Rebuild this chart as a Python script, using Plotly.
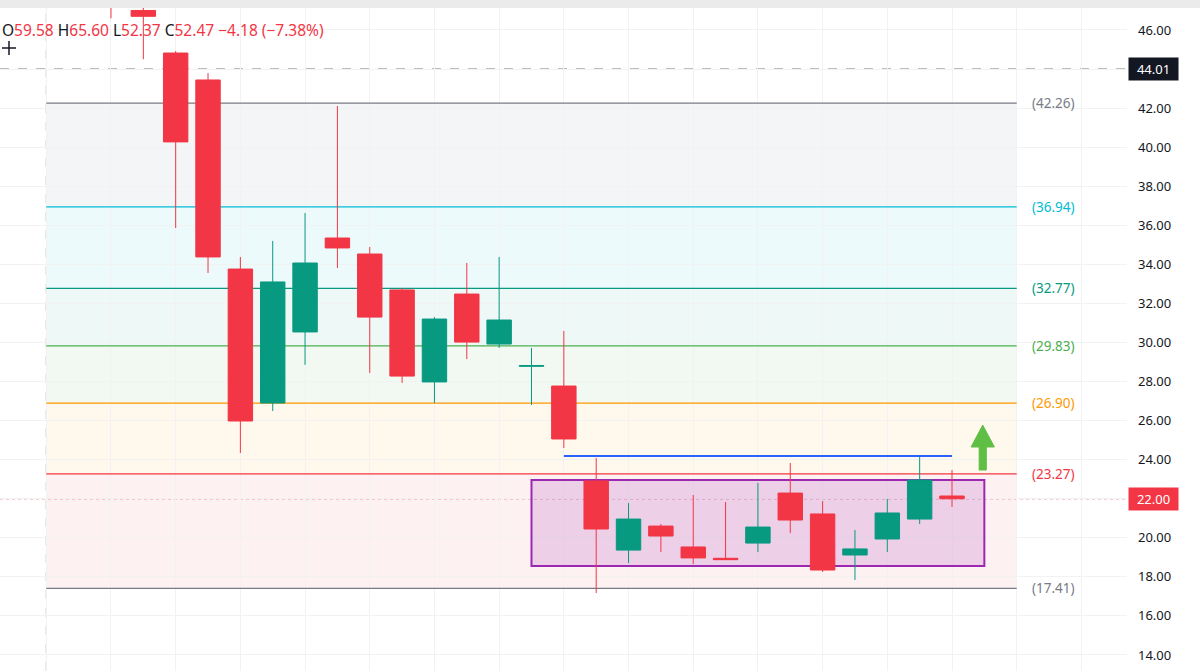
import plotly.graph_objects as go

# ---------------- data ----------------
idx = list(range(27))
opens = [50.0, 47.0, 44.82, 43.44, 33.76, 26.90, 30.54, 35.35, 34.53, 32.69, 27.98, 32.48, 29.92, 28.78,
         27.77, 22.91, 19.37, 20.60, 19.53, 18.95, 19.73, 22.29, 21.22, 19.12, 19.94, 20.96, 22.14]
highs = [51.0, 48.0, 44.92, 43.80, 34.38, 35.20, 36.63, 42.11, 34.89, 32.79, 31.30, 34.07, 34.38, 29.72,
         30.59, 24.09, 21.78, 20.71, 22.19, 21.83, 22.81, 23.83, 21.88, 20.40, 21.99, 24.19, 23.47]
lows = [46.6, 44.5, 35.86, 33.56, 24.34, 26.49, 28.85, 33.81, 28.44, 27.93, 26.90, 29.15, 29.72, 26.80,
        24.60, 17.17, 18.71, 19.27, 18.66, 18.88, 19.27, 20.24, 18.25, 17.84, 19.27, 20.71, 21.58]
closes = [47.6, 46.7, 40.27, 34.38, 25.98, 33.10, 34.07, 34.84, 31.30, 28.28, 31.20, 30.02, 31.15, 28.82,
          25.06, 20.45, 20.96, 20.09, 18.97, 18.88, 20.55, 20.91, 18.35, 19.43, 21.27, 22.96, 22.00]

fib_levels = [42.26, 36.94, 32.77, 29.83, 26.90, 23.27, 17.41]
fib_colors = ["#787b86", "#00bcd4", "#089981", "#4caf50", "#ff9800", "#f23645", "#787b86"]
fib_fills = ["rgba(120,123,134,0.08)", "rgba(0,188,212,0.07)", "rgba(8,153,129,0.07)",
             "rgba(76,175,80,0.07)", "rgba(255,152,0,0.07)", "rgba(242,54,69,0.07)"]
fib_x_start, fib_x_end = -2, 28

resistance = 24.19
resistance_x = (14, 26)
box_x = (13, 27)
box_y = (18.56, 22.96)

crosshair_price = 44.01
crosshair_x = -2
last_price = 22.00

ohlc_legend = [("O", "59.58"), ("H", "65.60"), ("L", "52.37"), ("C", "52.47")]
legend_change = "−4.18 (−7.38%)"

y_ticks = list(range(14, 47, 2))

RED = "#f23645"
GREEN = "#089981"
TXT = "#131722"
FONT = "Noto Sans"
PW, PH = 1127, 663  # plot area size in px

fig = go.Figure()

fig.add_trace(go.Candlestick(
    x=idx, open=opens, high=highs, low=lows, close=closes,
    increasing=dict(line=dict(color=GREEN, width=1), fillcolor=GREEN),
    decreasing=dict(line=dict(color=RED, width=1), fillcolor=RED),
    whiskerwidth=0, showlegend=False, hoverinfo="skip",
))

shapes = []
for i in range(len(fib_levels) - 1):
    shapes.append(dict(type="rect", xref="x", yref="y", x0=fib_x_start, x1=fib_x_end,
                       y0=fib_levels[i + 1], y1=fib_levels[i], fillcolor=fib_fills[i],
                       line=dict(width=0), layer="below"))
shapes.append(dict(type="rect", xref="x", yref="y", x0=box_x[0], x1=box_x[1], y0=box_y[0], y1=box_y[1],
                   fillcolor="rgba(156,39,176,0.17)", line=dict(color="#9c27b0", width=2), layer="between"))
for lv, c in zip(fib_levels, fib_colors):
    shapes.append(dict(type="line", xref="x", yref="y", x0=fib_x_start, x1=fib_x_end, y0=lv, y1=lv,
                       line=dict(color=c, width=1.2), layer="between"))
shapes.append(dict(type="line", xref="paper", yref="y", x0=0, x1=1, y0=crosshair_price, y1=crosshair_price,
                   line=dict(color="#9598a1", width=1, dash="dash"), layer="between"))
shapes.append(dict(type="line", xref="x", yref="paper", x0=crosshair_x, x1=crosshair_x, y0=0, y1=1,
                   line=dict(color="#9598a1", width=1, dash="dash"), layer="between"))
shapes.append(dict(type="line", xref="paper", yref="y", x0=0, x1=1, y0=last_price, y1=last_price,
                   line=dict(color=RED, width=1, dash="dot"), layer="between"))
shapes.append(dict(type="line", xref="x", yref="y", x0=resistance_x[0], x1=resistance_x[1],
                   y0=resistance, y1=resistance, line=dict(color="#2962ff", width=2), layer="above"))
ax_c, tip, head, tail, hw, sw = 26.95, 25.77, 24.65, 23.47, 0.36, 0.11
path = (f"M {ax_c-sw},{tail} L {ax_c-sw},{head} L {ax_c-hw},{head} L {ax_c},{tip} "
        f"L {ax_c+hw},{head} L {ax_c+sw},{head} L {ax_c+sw},{tail} Z")
shapes.append(dict(type="path", xref="x", yref="y", path=path, fillcolor="#5fbf45",
                   line=dict(color="#5fbf45", width=1), layer="above"))
shapes.append(dict(type="rect", xref="paper", yref="paper", x0=0, x1=1.1, y0=1.0, y1=1.02,
                   fillcolor="#ebebeb", line=dict(width=0), layer="above"))
cy = 1 - (48 - 8) / PH
shapes.append(dict(type="line", xref="paper", yref="paper", x0=2 / PW, x1=16 / PW, y0=cy, y1=cy,
                   line=dict(color=TXT, width=1.5), layer="above"))
shapes.append(dict(type="line", xref="paper", yref="paper", x0=9 / PW, x1=9 / PW, y0=cy - 7 / PH, y1=cy + 7 / PH,
                   line=dict(color=TXT, width=1.5), layer="above"))

annotations = []
for lv, c in zip(fib_levels, fib_colors):
    annotations.append(dict(x=28.42, y=lv, xref="x", yref="y", xanchor="left", yanchor="middle",
                            text=f"({lv:.2f})", showarrow=False, font=dict(family=FONT, size=13.5, color=c)))
annotations.append(dict(x=1, y=crosshair_price, xref="paper", yref="y", xanchor="left", yanchor="middle",
                        xshift=1, text=f"{crosshair_price:.2f}", showarrow=False, bgcolor="#131722",
                        width=45, borderpad=2, font=dict(family=FONT, size=13, color="white")))
annotations.append(dict(x=1, y=last_price, xref="paper", yref="y", xanchor="left", yanchor="middle",
                        xshift=1, text=f"{last_price:.2f}", showarrow=False, bgcolor=RED,
                        width=45, borderpad=2, font=dict(family=FONT, size=13, color="white")))
leg = " ".join(f"<span style='color:{TXT}'>{k}</span><span style='color:{RED}'>{v}</span>" for k, v in ohlc_legend)
leg += f" <span style='color:{RED}'>{legend_change}</span>"
annotations.append(dict(x=0, y=1 - 22 / PH, xref="paper", yref="paper", xanchor="left", yanchor="middle",
                        text=leg, showarrow=False, font=dict(family=FONT, size=15.5)))

fig.update_layout(
    width=1200, height=671,
    margin=dict(l=0, r=73, t=8, b=0),
    paper_bgcolor="white", plot_bgcolor="white",
    shapes=shapes, annotations=annotations,
    boxgap=0.245, boxgroupgap=0,
    showlegend=False,
    xaxis=dict(range=[-3.431, 31.41], showticklabels=False, tick0=0, dtick=2, showgrid=True,
               gridcolor="#f2f2f2", zeroline=False, rangeslider=dict(visible=False), fixedrange=True),
    yaxis=dict(range=[13.18, 47.126], side="right", tickvals=y_ticks, tickformat=".2f", showgrid=True,
               gridcolor="#f2f2f2", zeroline=False, ticks="", ticklabelstandoff=10,
               tickfont=dict(family=FONT, size=13, color=TXT), fixedrange=True),
)

fig.write_html("out.html", config={"displayModeBar": False},
               post_script="document.body.style.margin='0';document.body.style.overflow='hidden';")
